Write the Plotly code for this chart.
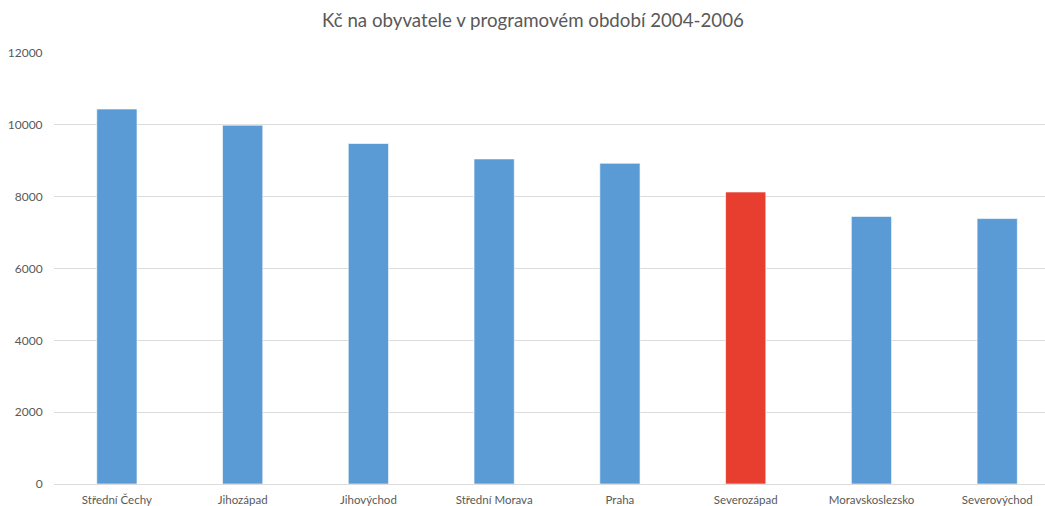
import plotly.graph_objects as go

regions = ["Střední Čechy", "Jihozápad", "Jihovýchod", "Střední Morava", "Praha",
           "Severozápad", "Moravskoslezsko", "Severovýchod"]
values = [10440, 9990, 9480, 9050, 8930, 8130, 7450, 7390]
highlight = "Severozápad"
blue = "#5B9BD5"
red = "#E83E30"
colors = [red if r == highlight else blue for r in regions]

y_ticks = [0, 2000, 4000, 6000, 8000, 10000, 12000]

fig = go.Figure(go.Bar(
    x=regions, y=values,
    marker=dict(color=colors, line=dict(color="rgba(255,255,255,0.6)", width=1)),
    width=0.32,
))

font_family = "Lato, 'Open Sans', sans-serif"
fig.update_layout(
    width=1045, height=506,
    margin=dict(l=54, r=0, t=53, b=22),
    paper_bgcolor="white", plot_bgcolor="white",
    title=dict(text="Kč na obyvatele v programovém období 2004-2006",
               x=0.51, xanchor="center", y=0.96, yanchor="middle",
               font=dict(family=font_family, size=18.7, color="#595959")),
    showlegend=False,
    font=dict(family=font_family, size=11.5, color="#595959"),
)
fig.update_xaxes(
    range=[-0.5, 7.38], automargin=False, showgrid=False, showline=False,
    ticks="outside", ticklen=5, tickcolor="rgba(0,0,0,0)",
    tickfont=dict(family=font_family, size=11.5, color="#595959"),
)
fig.update_yaxes(
    range=[0, 12000], tickvals=y_ticks, ticktext=[str(v) for v in y_ticks],
    automargin=False, showgrid=True, gridcolor="#dcdcdc", gridwidth=1,
    zeroline=True, zerolinecolor="#dcdcdc", zerolinewidth=1,
    ticks="outside", ticklen=8, tickcolor="rgba(0,0,0,0)",
    tickfont=dict(family=font_family, size=12, color="#595959"),
)
fig.write_html("out.html", config={"displayModeBar": False},
               post_script="document.body.style.margin='0';")
